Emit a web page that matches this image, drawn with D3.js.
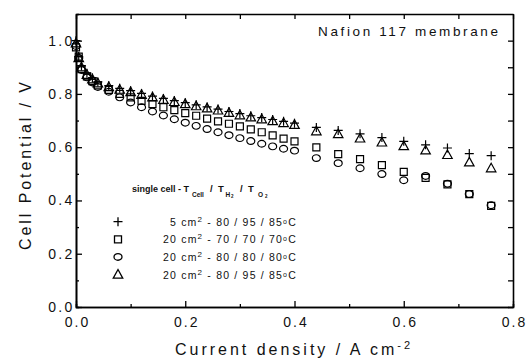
<!DOCTYPE html>
<html>
<head>
<meta charset="utf-8">
<script src="https://cdn.jsdelivr.net/npm/d3@7"></script>
<style>
  body { margin: 0; background: #fff; }
  svg { display: block; font-family: "Liberation Sans", Arial, sans-serif; }
</style>
</head>
<body>
<div id="chart"></div>
<script>
// current density (A cm-2), shared by all four runs
const currentDensity = [
  0, 0.005, 0.01, 0.02, 0.03, 0.04,
  0.06, 0.08, 0.10, 0.12, 0.14, 0.16, 0.18, 0.20, 0.22, 0.24,
  0.26, 0.28, 0.30, 0.32, 0.34, 0.36, 0.38, 0.40,
  0.44, 0.48, 0.52, 0.56, 0.60, 0.64, 0.68, 0.72, 0.76
];

// cell potential (V)
const cell5cm_80_95_85 = [
  1.0, 0.94, 0.905, 0.878, 0.86, 0.845,
  0.831, 0.821, 0.812, 0.802, 0.792, 0.783, 0.775, 0.767, 0.759, 0.751,
  0.743, 0.734, 0.726, 0.718, 0.711, 0.704, 0.697, 0.690,
  0.674, 0.663, 0.650, 0.636, 0.622, 0.609, 0.597, 0.576, 0.568
];
const cell20cm_70_70_70 = [
  0.975, 0.94, 0.893, 0.866, 0.848, 0.832,
  0.815, 0.800, 0.787, 0.774, 0.762, 0.750, 0.739, 0.728, 0.718, 0.707,
  0.697, 0.688, 0.678, 0.667, 0.656, 0.644, 0.632, 0.622,
  0.599, 0.574, 0.555, 0.533, 0.507, 0.485, 0.460, 0.424, 0.380
];
const cell20cm_80_80_80 = [
  0.98, 0.935, 0.89, 0.862, 0.843, 0.826,
  0.808, 0.787, 0.768, 0.750, 0.734, 0.719, 0.705, 0.692, 0.680, 0.668,
  0.656, 0.645, 0.634, 0.623, 0.613, 0.603, 0.594, 0.587,
  0.559, 0.540, 0.521, 0.499, 0.476, 0.492, 0.463, 0.424, 0.382
];
const cell20cm_80_95_85 = [
  0.99, 0.935, 0.90, 0.872, 0.855, 0.840,
  0.826, 0.816, 0.807, 0.797, 0.787, 0.778, 0.770, 0.762, 0.754, 0.746,
  0.738, 0.729, 0.720, 0.712, 0.705, 0.698, 0.691, 0.684,
  0.660, 0.649, 0.633, 0.618, 0.604, 0.588, 0.571, 0.543, 0.521
];

const legendArea = ["5", "20", "20", "20"];
const legendTemps = ["80 / 95 / 85", "70 / 70 / 70", "80 / 80 / 80", "80 / 95 / 85"];
const xMajorTicks = [0, 0.2, 0.4, 0.6, 0.8];
const xMinorTicks = [0.1, 0.3, 0.5, 0.7];
const yMajorTicks = [0, 0.2, 0.4, 0.6, 0.8, 1.0];
const yMinorTicks = [0.1, 0.3, 0.5, 0.7, 0.9];

const width = 526;
const height = 359;

// custom open marker shapes, size = marker width in px
const plusShape = {
  draw(ctx, s) {
    const r = s / 2;
    ctx.moveTo(-r, 0); ctx.lineTo(r, 0);
    ctx.moveTo(0, -r); ctx.lineTo(0, r);
  }
};
const squareShape = {
  draw(ctx, s) {
    const r = s / 2;
    ctx.rect(-r, -r, s, s);
  }
};
const circleShape = {
  draw(ctx, s) {
    const rx = s / 2, ry = s * 0.42, k = 0.5523;
    ctx.moveTo(rx, 0);
    ctx.bezierCurveTo(rx, ry * k, rx * k, ry, 0, ry);
    ctx.bezierCurveTo(-rx * k, ry, -rx, ry * k, -rx, 0);
    ctx.bezierCurveTo(-rx, -ry * k, -rx * k, -ry, 0, -ry);
    ctx.bezierCurveTo(rx * k, -ry, rx, -ry * k, rx, 0);
    ctx.closePath();
  }
};
const triangleShape = {
  draw(ctx, s) {
    const r = s / 2, h = s * 0.9;
    ctx.moveTo(0, -h * 0.58);
    ctx.lineTo(r, h * 0.42);
    ctx.lineTo(-r, h * 0.42);
    ctx.closePath();
  }
};

const series = [
  { values: cell5cm_80_95_85, shape: plusShape, size: 9 },
  { values: cell20cm_70_70_70, shape: squareShape, size: 7 },
  { values: cell20cm_80_80_80, shape: circleShape, size: 8 },
  { values: cell20cm_80_95_85, shape: triangleShape, size: 9.5 }
];

const svg = d3.select("#chart")
  .append("svg")
  .attr("width", width)
  .attr("height", height);

svg.append("rect").attr("width", width).attr("height", height).attr("fill", "#fff");

const x = d3.scaleLinear().domain([0, 0.8]).range([76, 513]);
const y = d3.scaleLinear().domain([0, 1.1]).range([307, 14]);

const fmt = d3.format(".1f");

function styleAxis(g) {
  g.select(".domain").attr("stroke", "#000").attr("stroke-width", 1.6);
  g.selectAll(".tick line").attr("stroke", "#000").attr("stroke-width", 1.3);
  g.selectAll(".tick text")
    .attr("fill", "#111")
    .style("font-size", "14px")
    .style("letter-spacing", "2.3px");
}

// bottom axis, major + minor
svg.append("g")
  .attr("transform", `translate(0,${y(0)})`)
  .call(d3.axisBottom(x).tickValues(xMajorTicks).tickSize(-6).tickSizeOuter(0).tickPadding(10).tickFormat(fmt))
  .call(styleAxis)
  .selectAll(".tick text")
  .style("letter-spacing", "2px")
  .attr("dx", "1px");
svg.append("g")
  .attr("transform", `translate(0,${y(0)})`)
  .call(d3.axisBottom(x).tickValues(xMinorTicks).tickSize(-3).tickFormat(""))
  .call(styleAxis);

// top axis
svg.append("g")
  .attr("transform", `translate(0,${y(1.1)})`)
  .call(d3.axisTop(x).tickValues(xMinorTicks.concat(xMajorTicks)).tickSize(-5).tickSizeOuter(0).tickFormat(""))
  .call(styleAxis);

// left axis, major + minor
svg.append("g")
  .attr("transform", `translate(${x(0)},0)`)
  .call(d3.axisLeft(y).tickValues(yMajorTicks).tickSize(-6).tickSizeOuter(0).tickPadding(1.5).tickFormat(fmt))
  .call(styleAxis);
svg.append("g")
  .attr("transform", `translate(${x(0)},0)`)
  .call(d3.axisLeft(y).tickValues(yMinorTicks).tickSize(-3).tickFormat(""))
  .call(styleAxis);

// right axis
svg.append("g")
  .attr("transform", `translate(${x(0.8)},0)`)
  .call(d3.axisRight(y).tickValues(yMinorTicks.concat(yMajorTicks)).tickSize(-5).tickSizeOuter(0).tickFormat(""))
  .call(styleAxis);

// markers
series.forEach((s) => {
  const sym = d3.symbol().type(s.shape).size(s.size);
  svg.append("g")
    .selectAll("path")
    .data(currentDensity.map((cd, i) => [cd, s.values[i]]))
    .enter()
    .append("path")
    .attr("d", sym)
    .attr("transform", (d) => `translate(${x(d[0])},${y(d[1])})`)
    .attr("fill", "none")
    .attr("stroke", "#000")
    .attr("stroke-width", 1.2);
});

// in-plot title
svg.append("text")
  .attr("x", 318)
  .attr("y", 36)
  .attr("textLength", 180)
  .attr("lengthAdjust", "spacing")
  .style("font-size", "13.5px")
  .attr("fill", "#111")
  .text("Nafion 117 membrane");

// legend header: single cell - T_Cell / T_H2 / T_O2
const header = svg.append("g")
  .style("font-weight", "bold")
  .attr("fill", "#111");
const headerParts = [
  { text: "single cell - T", x: 132, dy: 0, size: 9 },
  { text: "Cell", x: 192, dy: 4.5, size: 6.5 },
  { text: "/", x: 210, dy: 0, size: 9.5 },
  { text: "T", x: 218, dy: 0, size: 9.5 },
  { text: "H", x: 225.5, dy: 4.5, size: 6.5 },
  { text: "2", x: 231, dy: 6, size: 4.5 },
  { text: "/", x: 240, dy: 0, size: 9.5 },
  { text: "T", x: 248, dy: 0, size: 9.5 },
  { text: "O", x: 258, dy: 4.5, size: 6.5 },
  { text: "2", x: 265, dy: 6, size: 4.5 }
];
headerParts.forEach((p) => {
  header.append("text")
    .attr("x", p.x)
    .attr("y", 192 + p.dy)
    .style("font-size", `${p.size}px`)
    .text(p.text);
});

// legend rows
series.forEach((s, i) => {
  const rowY = 221.7 + i * 17.6;
  svg.append("path")
    .attr("d", d3.symbol().type(s.shape).size(s.size)())
    .attr("transform", `translate(118,${rowY})`)
    .attr("fill", "none")
    .attr("stroke", "#000")
    .attr("stroke-width", 1.3);

  const t = svg.append("text")
    .attr("x", 297)
    .attr("y", rowY + 4)
    .attr("text-anchor", "end")
    .style("font-size", "10.5px")
    .style("letter-spacing", "1.2px")
    .attr("fill", "#111");
  t.append("tspan").text(`${legendArea[i]} cm`);
  t.append("tspan").attr("dy", -4).style("font-size", "8px").text("2");
  t.append("tspan").attr("dy", 4).text(` - ${legendTemps[i]}`);
  t.append("tspan").attr("dy", -2).style("font-size", "7px").text("o");
  t.append("tspan").attr("dy", 2).text("C");
});

// axis titles
svg.append("text")
  .attr("transform", "translate(31,166) rotate(-90)")
  .attr("text-anchor", "middle")
  .attr("textLength", 168)
  .attr("lengthAdjust", "spacing")
  .style("font-size", "16px")
  .attr("fill", "#111")
  .text("Cell Potential / V");

const xTitle = svg.append("text")
  .attr("x", 175)
  .attr("y", 355)
  .attr("textLength", 235)
  .attr("lengthAdjust", "spacing")
  .style("font-size", "16px")
  .attr("fill", "#111");
xTitle.append("tspan").text("Current density / A cm");
xTitle.append("tspan").attr("dy", -6).style("font-size", "11px").text("-2");
</script>
</body>
</html>
